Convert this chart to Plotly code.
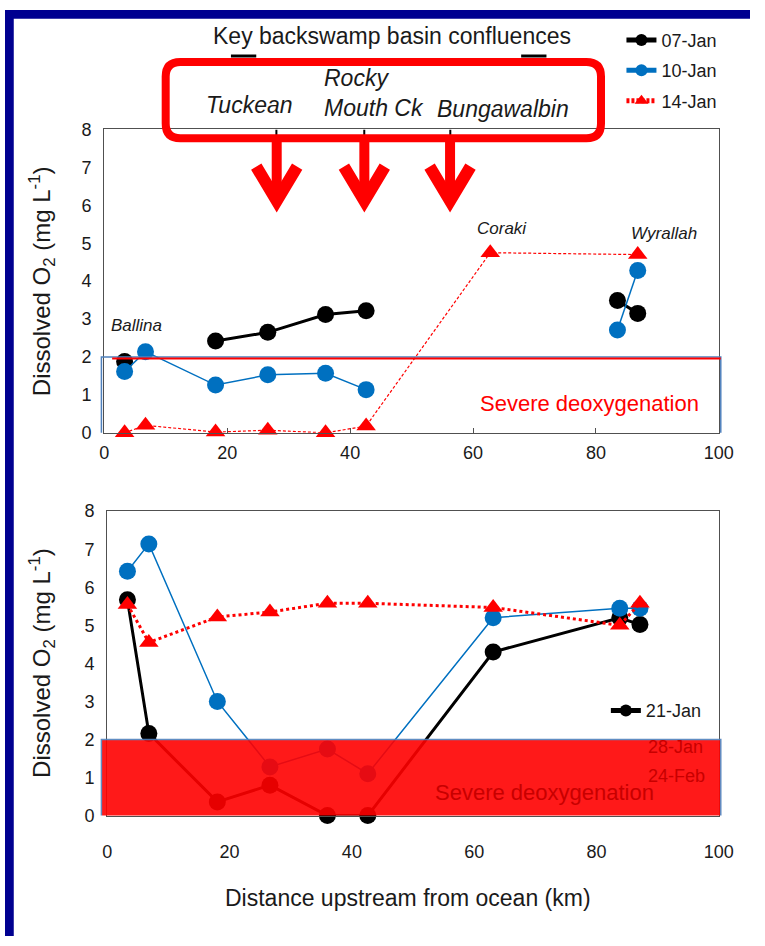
import plotly.graph_objects as go

W, H = 765, 946

# ---------------- data ----------------
top_x = [3.3, 6.7, 18.1, 26.6, 36.0, 42.6, 62.8, 83.5, 86.8]
jan07 = [1.88, None, 2.42, 2.65, 3.12, 3.22, None, 3.49, 3.15]
jan10 = [1.62, 2.14, 1.26, 1.53, 1.57, 1.14, None, 2.71, 4.28]
jan14 = [0.0, 0.20, 0.02, 0.07, 0.0, 0.18, 4.75, None, 4.70]

bot_x = [3.3, 6.8, 18.0, 26.6, 36.0, 42.6, 63.1, 83.8, 87.1]
jan21 = [5.67, 2.16, 0.36, 0.80, 0.0, 0.0, 4.30, 5.20, 5.02]
jan28 = [6.42, 7.14, 3.00, 1.28, 1.75, 1.10, 5.20, 5.45, 5.45]
feb24 = [5.55, 4.55, 5.22, 5.35, 5.58, 5.58, 5.47, 5.00, 5.58]

x_ticks = [0, 20, 40, 60, 80, 100]
y_ticks = [0, 1, 2, 3, 4, 5, 6, 7, 8]

confluences = ["Tuckean", "Rocky<br>Mouth Ck", "Bungawalbin"]
confluence_km = [28.0, 42.3, 56.3]

BLACK = "#000000"
BLUE = "#0070C0"
RED = "#FF0000"
NAVY = "#000090"
TXT = "#1a1a1a"


def fx(X):
    return X / W


def fy(Y):
    return 1 - Y / H


def px(X, Y):
    return fx(X), fy(Y)


fig = go.Figure()

# ---------------- top panel ----------------
fig.add_trace(go.Scatter(x=top_x, y=jan07, name="07-Jan", mode="lines+markers",
                         line=dict(color=BLACK, width=3), marker=dict(size=17, color=BLACK),
                         xaxis="x", yaxis="y", legend="legend", legendgroup="a",
                         connectgaps=False, cliponaxis=False))
fig.add_trace(go.Scatter(x=top_x, y=jan10, name="10-Jan", mode="lines+markers",
                         line=dict(color=BLUE, width=1.5), marker=dict(size=17, color=BLUE),
                         xaxis="x", yaxis="y", legend="legend", legendgroup="b",
                         connectgaps=False, cliponaxis=False))
fig.add_trace(go.Scatter(x=top_x, y=jan14, name="14-Jan", mode="lines+markers",
                         line=dict(color=RED, width=1.2, dash="3px,2px"),
                         marker=dict(size=17, color=RED, symbol="triangle-up"),
                         xaxis="x", yaxis="y", legend="legend", legendgroup="c",
                         connectgaps=True, cliponaxis=False))

# ---------------- bottom panel ----------------
fig.add_trace(go.Scatter(x=bot_x, y=jan21, name="21-Jan", mode="lines+markers",
                         line=dict(color=BLACK, width=3), marker=dict(size=17, color=BLACK),
                         xaxis="x2", yaxis="y2", legend="legend2", cliponaxis=False))
fig.add_trace(go.Scatter(x=bot_x, y=jan28, name="28-Jan", mode="lines+markers",
                         line=dict(color=BLUE, width=1.5), marker=dict(size=17, color=BLUE),
                         xaxis="x2", yaxis="y2", showlegend=False, cliponaxis=False))
fig.add_trace(go.Scatter(x=bot_x, y=feb24, name="24-Feb", mode="lines+markers",
                         line=dict(color=RED, width=3, dash="dot"),
                         marker=dict(size=17, color=RED, symbol="triangle-up"),
                         xaxis="x2", yaxis="y2", showlegend=False, cliponaxis=False))

axis_common = dict(showline=True, linecolor="#505050", linewidth=1.3, mirror=True,
                   showgrid=False, zeroline=False,
                   tickfont=dict(size=18, color=TXT))

fig.update_layout(
    width=W, height=H,
    margin=dict(l=0, r=0, t=0, b=0),
    paper_bgcolor="white", plot_bgcolor="white",
    font=dict(family="Liberation Sans, Arial, sans-serif", color=TXT),
    xaxis=dict(domain=[fx(102), fx(733)], anchor="y", range=[0, 100], tickvals=x_ticks,
               ticks="inside", ticklen=5, tickcolor="#505050", ticklabelstandoff=3, **axis_common),
    yaxis=dict(domain=[fy(432), fy(122)], anchor="x", range=[0, 8], tickvals=y_ticks,
               ticks="", ticklabelstandoff=8, **axis_common),
    xaxis2=dict(domain=[fx(105), fx(733)], anchor="y2", range=[0, 100], tickvals=x_ticks,
                ticks="", ticklabelstandoff=20, **axis_common),
    yaxis2=dict(domain=[fy(823), fy(512)], anchor="x2", range=[0, 8], tickvals=y_ticks,
                ticks="", ticklabelstandoff=8, **axis_common),
    legend=dict(x=fx(633), y=fy(12), xanchor="left", yanchor="top",
                bgcolor="rgba(0,0,0,0)", font=dict(size=18, color=TXT),
                tracegroupgap=4, itemsizing="constant", traceorder="grouped"),
    legend2=dict(x=fx(617), y=fy(697), xanchor="left", yanchor="top",
                 bgcolor="rgba(0,0,0,0)", font=dict(size=18, color=TXT),
                 itemsizing="constant"),
    showlegend=True,
)

shapes = []
# navy frame strips (left and top)
shapes.append(dict(type="rect", xref="paper", yref="paper", x0=0, x1=fx(9), y0=0, y1=1,
                   fillcolor=NAVY, line=dict(width=0), layer="above"))
shapes.append(dict(type="rect", xref="paper", yref="paper", x0=0, x1=1, y0=fy(9), y1=1,
                   fillcolor=NAVY, line=dict(width=0), layer="above"))

# top panel severe deoxygenation outline
shapes.append(dict(type="rect", xref="paper", yref="y", x0=fx(99), x1=fx(735), y0=-0.05, y1=2.0,
                   line=dict(color="#4F81BD", width=1.5), fillcolor="rgba(0,0,0,0)", layer="above"))
shapes.append(dict(type="line", xref="paper", yref="y", x0=fx(110), x1=fx(735), y0=1.96, y1=1.96,
                   line=dict(color=RED, width=2), layer="above"))

# bottom panel severe deoxygenation filled block
shapes.append(dict(type="rect", xref="paper", yref="y2", x0=fx(99), x1=fx(735), y0=-0.03, y1=2.0,
                   line=dict(color="#4F81BD", width=1.5), fillcolor=RED, opacity=0.9, layer="above"))

# small black confluence ticks at top of top panel
for km in confluence_km:
    shapes.append(dict(type="line", xref="x", yref="y", x0=km, x1=km, y0=8, y1=7.85,
                       line=dict(color=BLACK, width=2), layer="above"))

# small black bracket ends near title
for a, b in [(232, 258), (530, 556)]:
    shapes.append(dict(type="line", xref="paper", yref="paper", x0=fx(a), x1=fx(b),
                       y0=fy(47), y1=fy(47), line=dict(color=BLACK, width=3), layer="above"))

# red rounded box
L, R, T, B, r = 165, 612, 53, 131, 15


def P(x, y):
    a, b = px(x, y)
    return f"{a:.5f},{b:.5f}"


path = (f"M{P(L + r, T)} L{P(R - r, T)} Q{P(R, T)} {P(R, T + r)} L{P(R, B - r)} "
        f"Q{P(R, B)} {P(R - r, B)} L{P(L + r, B)} Q{P(L, B)} {P(L, B - r)} "
        f"L{P(L, T + r)} Q{P(L, T)} {P(L + r, T)} Z")
shapes.append(dict(type="path", xref="paper", yref="paper", path=path,
                   line=dict(color=RED, width=8), fillcolor="rgba(0,0,0,0)", layer="above"))

# red arrows
for xpx in [279, 369, 457]:
    shapes.append(dict(type="path", xref="paper", yref="paper",
                       path=f"M{P(xpx, B)} L{P(xpx, 196)}",
                       line=dict(color=RED, width=10), layer="above"))
    shapes.append(dict(type="path", xref="paper", yref="paper",
                       path=f"M{P(xpx - 21, 160)} L{P(xpx, 195)} L{P(xpx + 21, 160)}",
                       line=dict(color=RED, width=12), fillcolor="rgba(0,0,0,0)", layer="above"))

fig.update_layout(shapes=shapes)

ann = []
# title
ann.append(dict(text="Key backswamp basin confluences", x=fx(397), y=fy(27), xref="paper",
                yref="paper", showarrow=False, font=dict(size=23, color=TXT),
                xanchor="center", yanchor="middle"))
# confluence names
for name, (cx, cy), anc in zip(confluences, [(251, 97), (325, 85), (511, 101)],
                               ["center", "left", "center"]):
    ann.append(dict(text=f"<i>{name}</i>", x=fx(cx), y=fy(cy), xref="paper", yref="paper",
                    showarrow=False, font=dict(size=23, color=TXT), xanchor=anc,
                    yanchor="middle", align="left"))
# site labels
for name, sx, sy in [("Ballina", 5.2, 2.84), ("Coraki", 64.7, 5.39), ("Wyrallah", 91.0, 5.26)]:
    ann.append(dict(text=f"<i>{name}</i>", x=sx, y=sy, xref="x", yref="y", showarrow=False,
                    font=dict(size=17, color=TXT), xanchor="center", yanchor="middle"))
# severe deoxygenation labels
ann.append(dict(text="Severe deoxygenation", x=78.9, y=0.77, xref="x", yref="y", showarrow=False,
                font=dict(size=22, color=RED), xanchor="center", yanchor="middle"))
ann.append(dict(text="Severe deoxygenation", x=71.5, y=0.62, xref="x2", yref="y2", showarrow=False,
                font=dict(size=22, color="#C80000"), xanchor="center", yanchor="middle"))
# legend entries hidden under the red block
for txt, ly in [("28-Jan", 753), ("24-Feb", 783)]:
    ann.append(dict(text=txt, x=fx(658), y=fy(ly), xref="paper", yref="paper", showarrow=False,
                    font=dict(size=18, color="#C80000"), xanchor="left", yanchor="middle"))
# y axis titles
for cy in [277, 667]:
    ann.append(dict(text="Dissolved O<sub>2</sub> (mg L<sup>-1</sup>)", x=fx(38), y=fy(cy),
                    xref="paper", yref="paper", showarrow=False, textangle=-90,
                    font=dict(size=24, color=TXT), xanchor="center", yanchor="middle"))
# x axis title
ann.append(dict(text="Distance upstream from ocean (km)", x=fx(414), y=fy(907), xref="paper",
                yref="paper", showarrow=False, font=dict(size=23, color=TXT),
                xanchor="center", yanchor="middle"))

fig.update_layout(annotations=ann)

fig.write_html("out.html",
               config={"displayModeBar": False},
               post_script="document.documentElement.style.margin='0';"
                           "document.body.style.margin='0';document.body.style.padding='0';"
                           "document.documentElement.style.overflow='hidden';"
                           "document.body.style.overflow='hidden';")
